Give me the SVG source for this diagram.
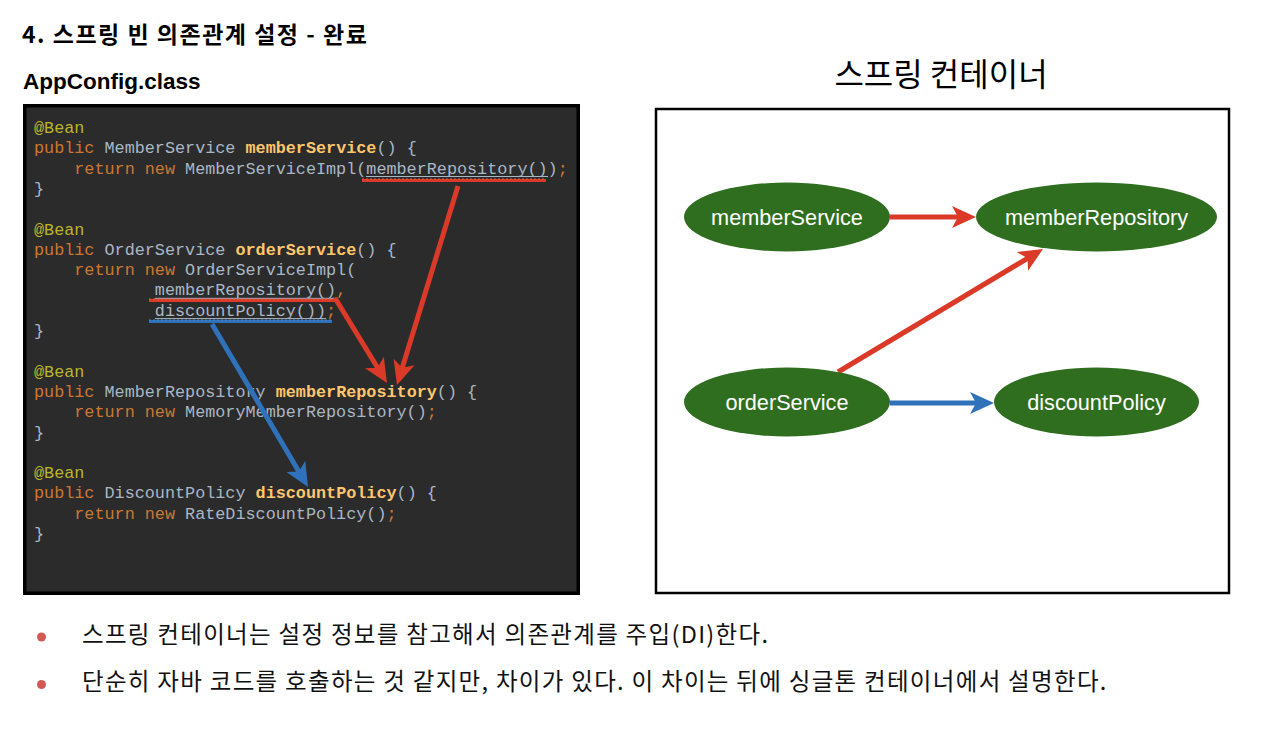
<svg xmlns="http://www.w3.org/2000/svg" width="1280" height="729" viewBox="0 0 1280 729">
<style>
.h{font-family:"Noto Sans CJK KR","Liberation Sans",sans-serif;font-weight:bold;fill:#000}
.code text{font-family:"Liberation Mono",monospace;font-size:16.8px;white-space:pre}
.kw{fill:#cc7832}.an{fill:#bbb529}.id{fill:#a9b7c6}.fn{fill:#ffc66d;font-weight:bold}
.node ellipse{fill:#2f6e1f}
.node text{font-family:"Liberation Sans",Arial,sans-serif;font-size:21.7px;fill:#fff;text-anchor:middle}
.ar{fill:none;stroke-width:5}
.red{stroke:#dc3a28}.blue{stroke:#2f72ba}
.body{font-family:"Noto Sans CJK KR","Liberation Sans",sans-serif;font-size:23.5px;letter-spacing:1.3px;fill:#111}
</style>
<defs>
<marker id="ahr" markerUnits="userSpaceOnUse" markerWidth="30" markerHeight="30" refX="7" refY="0" orient="auto" overflow="visible" viewBox="-2 -14 30 28"><path d="M0,-11 L24,0 L0,11 L6,0 Z" fill="#dc3a28"/></marker>
<marker id="ahb" markerUnits="userSpaceOnUse" markerWidth="30" markerHeight="30" refX="7" refY="0" orient="auto" overflow="visible" viewBox="-2 -14 30 28"><path d="M0,-11 L24,0 L0,11 L6,0 Z" fill="#2f72ba"/></marker>
</defs>
<rect width="1280" height="729" fill="#fff"/>
<text class="h" x="22" y="43" font-size="23" letter-spacing="1.5">4. 스프링 빈 의존관계 설정 - 완료</text>
<text x="23" y="89" font-family="Liberation Sans, Arial, sans-serif" font-weight="bold" font-size="22.5" fill="#000">AppConfig.class</text>
<text x="941" y="86" font-family="Noto Sans CJK KR, Liberation Sans, sans-serif" font-size="32" fill="#000" text-anchor="middle">스프링 컨테이너</text>

<g id="code-panel" class="code" xml:space="preserve">
<rect x="24.75" y="105.75" width="553.5" height="487.5" fill="#2b2b2b" stroke="#000" stroke-width="3.5"/>
<text x="34" y="133"><tspan class="an">@Bean</tspan></text>
<text x="34" y="153.3"><tspan class="kw">public</tspan><tspan class="id"> MemberService </tspan><tspan class="fn">memberService</tspan><tspan class="id">() {</tspan></text>
<text x="34" y="173.6"><tspan class="kw">    return new </tspan><tspan class="id">MemberServiceImpl(memberRepository())</tspan><tspan class="kw">;</tspan></text>
<text x="34" y="193.9"><tspan class="id">}</tspan></text>
<text x="34" y="234.5"><tspan class="an">@Bean</tspan></text>
<text x="34" y="254.8"><tspan class="kw">public</tspan><tspan class="id"> OrderService </tspan><tspan class="fn">orderService</tspan><tspan class="id">() {</tspan></text>
<text x="34" y="275.1"><tspan class="kw">    return new </tspan><tspan class="id">OrderServiceImpl(</tspan></text>
<text x="34" y="295.4"><tspan class="id">            memberRepository()</tspan><tspan class="kw">,</tspan></text>
<text x="34" y="315.7"><tspan class="id">            discountPolicy())</tspan><tspan class="kw">;</tspan></text>
<text x="34" y="336"><tspan class="id">}</tspan></text>
<text x="34" y="376.6"><tspan class="an">@Bean</tspan></text>
<text x="34" y="396.9"><tspan class="kw">public</tspan><tspan class="id"> MemberRepository </tspan><tspan class="fn">memberRepository</tspan><tspan class="id">() {</tspan></text>
<text x="34" y="417.2"><tspan class="kw">    return new </tspan><tspan class="id">MemoryMemberRepository()</tspan><tspan class="kw">;</tspan></text>
<text x="34" y="437.5"><tspan class="id">}</tspan></text>
<text x="34" y="478.1"><tspan class="an">@Bean</tspan></text>
<text x="34" y="498.4"><tspan class="kw">public</tspan><tspan class="id"> DiscountPolicy </tspan><tspan class="fn">discountPolicy</tspan><tspan class="id">() {</tspan></text>
<text x="34" y="518.7"><tspan class="kw">    return new </tspan><tspan class="id">RateDiscountPolicy()</tspan><tspan class="kw">;</tspan></text>
<text x="34" y="539"><tspan class="id">}</tspan></text>
<g stroke="#a9b7c6" stroke-width="1">
<line x1="366" y1="176.5" x2="548" y2="176.5"/>
<line x1="155" y1="298.3" x2="336" y2="298.3"/>
<line x1="155" y1="318.6" x2="326" y2="318.6"/>
</g>
<g stroke-width="3">
<line x1="362" y1="180.5" x2="546" y2="180.5" stroke="#dc3a28"/>
<line x1="149" y1="300.5" x2="335" y2="300.5" stroke="#dc3a28"/>
<line x1="149" y1="321.5" x2="332" y2="321.5" stroke="#2f72ba"/>
</g>
<g stroke-width="1" stroke-dasharray="2 2">
<line x1="362" y1="179" x2="546" y2="179" stroke="#f05a40"/>
<line x1="149" y1="299" x2="335" y2="299" stroke="#f05a40"/>
<line x1="149" y1="320" x2="332" y2="320" stroke="#4a8ad0"/>
</g>
</g>

<g id="container-box">
<rect x="656" y="109" width="573" height="484" fill="#fff" stroke="#000" stroke-width="2.5"/>
</g>

<g id="connectors">
<line class="ar red" x1="458" y1="186" x2="402" y2="368.7" marker-end="url(#ahr)"/>
<line class="ar red" x1="335" y1="298" x2="378.1" y2="368.5" marker-end="url(#ahr)"/>
<line class="ar blue" x1="212" y1="324" x2="299.4" y2="472.4" marker-end="url(#ahb)"/>
<line class="ar red" x1="890" y1="217" x2="959" y2="217" marker-end="url(#ahr)"/>
<line class="ar red" x1="838" y1="372" x2="1028.4" y2="257.8" marker-end="url(#ahr)"/>
<line class="ar blue" x1="890" y1="403" x2="977" y2="403" marker-end="url(#ahb)"/>
</g>

<g id="memberService" class="node"><ellipse cx="787" cy="217" rx="103" ry="34.5"/><text x="787" y="225">memberService</text></g>
<g id="memberRepository" class="node"><ellipse cx="1096.5" cy="217" rx="120.5" ry="34.5"/><text x="1096.5" y="225">memberRepository</text></g>
<g id="orderService" class="node"><ellipse cx="787" cy="402" rx="103" ry="34.5"/><text x="787" y="410">orderService</text></g>
<g id="discountPolicy" class="node"><ellipse cx="1096.5" cy="402" rx="102.5" ry="34.5"/><text x="1096.5" y="410">discountPolicy</text></g>

<g id="bullets">
<circle cx="41.5" cy="637" r="4.5" fill="#d25a55"/>
<circle cx="41.5" cy="684.5" r="4.5" fill="#d25a55"/>
<text class="body" x="82" y="643">스프링 컨테이너는 설정 정보를 참고해서 의존관계를 주입(DI)한다.</text>
<text class="body" x="82" y="690">단순히 자바 코드를 호출하는 것 같지만, 차이가 있다. 이 차이는 뒤에 싱글톤 컨테이너에서 설명한다.</text>
</g>
</svg>
